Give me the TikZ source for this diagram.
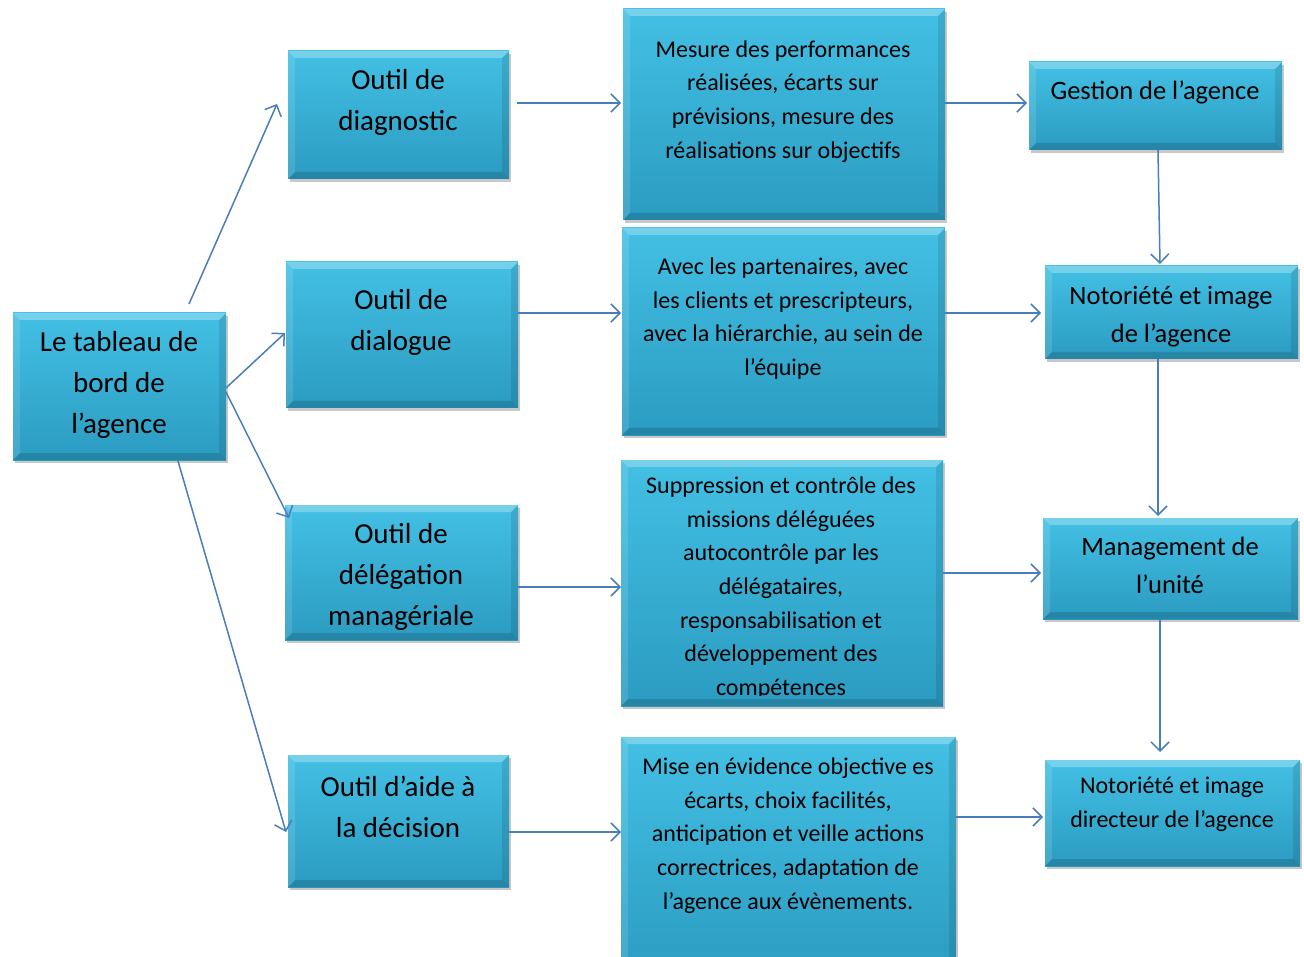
\documentclass[tikz,border=0pt]{standalone}
\usepackage{fontspec}
\setmainfont{Carlito}
\usetikzlibrary{arrows.meta,shadows}
\definecolor{boxtop}{HTML}{43C0E4}
\definecolor{boxbot}{HTML}{2B9BC1}
\definecolor{arrowblue}{HTML}{4A7EBB}
\tikzset{
  box/.style={rectangle, inner sep=0pt, outer sep=0pt,
    top color=boxtop, bottom color=boxbot,
    drop shadow={shadow xshift=2pt, shadow yshift=-3pt, opacity=0.3, fill=black!70},
    path picture={
      \coordinate (nw) at (path picture bounding box.north west);
      \coordinate (ne) at (path picture bounding box.north east);
      \coordinate (sw) at (path picture bounding box.south west);
      \coordinate (se) at (path picture bounding box.south east);
      \fill[white,opacity=0.28] (nw) -- (ne) -- ([shift={(-7pt,-7pt)}]ne) -- ([shift={(7pt,-7pt)}]nw) -- cycle;
      \fill[white,opacity=0.12] (nw) -- (sw) -- ([shift={(7pt,7pt)}]sw) -- ([shift={(7pt,-7pt)}]nw) -- cycle;
      \fill[black,opacity=0.14] (sw) -- (se) -- ([shift={(-7pt,7pt)}]se) -- ([shift={(7pt,7pt)}]sw) -- cycle;
      \fill[black,opacity=0.10] (ne) -- (se) -- ([shift={(-7pt,7pt)}]se) -- ([shift={(-7pt,-7pt)}]ne) -- cycle;
    }},
  bigtxt/.style={align=center, inner sep=0pt, font=\fontsize{29}{41}\selectfont},
  dtxt/.style={align=center, inner sep=0pt, font=\fontsize{26.5}{38.5}\selectfont},
  midtxt/.style={align=center, inner sep=0pt, font=\fontsize{24}{33.7}\selectfont},
  arr/.style={draw=arrowblue, line width=1.5pt, -{Straight Barb[length=9pt,width=18pt,line width=1.5pt]}},
}
\begin{document}
\begin{tikzpicture}[x=1pt,y=-1pt]
\clip (0,0) rectangle (1304,957);
\fill[white] (0,0) rectangle (1304,957);

% boxes
\node[box, minimum width=213pt, minimum height=147pt] (A) at (119.5,386.5) {};
\node[box, minimum width=221pt, minimum height=128pt] (B1) at (398.5,115) {};
\node[box, minimum width=232pt, minimum height=146pt] (B2) at (402,335) {};
\node[box, minimum width=233pt, minimum height=135pt] (B3) at (401.5,572.5) {};
\node[box, minimum width=221pt, minimum height=132pt] (B4) at (398.5,821) {};
\node[box, minimum width=322pt, minimum height=211pt] (C1) at (784,114.5) {};
\node[box, minimum width=323pt, minimum height=207pt] (C2) at (783.5,331.5) {};
\node[box, minimum width=322pt, minimum height=246pt] (C3) at (782,583) {};
\node[box, minimum width=335pt, minimum height=243pt] (C4) at (788.5,858.5) {};
\node[box, minimum width=253pt, minimum height=88pt] (D1) at (1155.5,106) {};
\node[box, minimum width=253pt, minimum height=93pt] (D2) at (1171.5,312.5) {};
\node[box, minimum width=255pt, minimum height=101pt] (D3) at (1170.5,568.5) {};
\node[box, minimum width=255pt, minimum height=106pt] (D4) at (1172.5,813) {};

% texts
\node[bigtxt] (At) at (119,384.5) {Le tableau de\\bord de\\l’agence};
\node[bigtxt] (B1t) at (398,102.5) {Outil de\\diagnostic};
\node[bigtxt] (B2t) at (401,322) {Outil de\\dialogue};
\node[bigtxt] (B3t) at (401,576.5) {Outil de\\délégation\\managériale};
\node[bigtxt] (B4t) at (398,807) {Outil d’aide à\\la décision};
\node[midtxt] (C1t) at (783,101.5) {Mesure des performances\\réalisées, écarts sur\\prévisions, mesure des\\réalisations sur objectifs};
\node[midtxt] (C2t) at (783,318.5) {Avec les partenaires, avec\\les clients et prescripteurs,\\avec la hiérarchie, au sein de\\l’équipe};
\begin{scope}
\clip (621,460) rectangle (943,695);
\node[midtxt] (C3t) at (781,588) {Suppression et contrôle des\\missions déléguées\\autocontrôle par les\\délégataires,\\responsabilisation et\\développement des\\compétences};
\end{scope}
\node[midtxt] (C4t) at (788,835.5) {Mise en évidence objective es\\écarts, choix facilités,\\anticipation et veille actions\\correctrices, adaptation de\\l’agence aux évènements.};
\node[dtxt] (D1t) at (1155,92.5) {Gestion de l’agence};
\node[dtxt] (D2t) at (1171,316.5) {Notoriété et image\\de l’agence};
\node[dtxt] (D3t) at (1170,565.5) {Management de\\l’unité};
\node[midtxt] (D4t) at (1172,804) {Notoriété et image\\directeur de l’agence};

% connectors
\draw[arr] ([shift={(69.5,-9)}]A.north) -- ([shift={(-11,-11)}]B1.west);
\draw[arr] ([shift={(0,1.5)}]A.east) -- ([shift={(-1,-2)}]B2.west);
\draw[arr] ([shift={(0,5.5)}]A.east) -- ([shift={(4,13)}]B3.north west);
\draw[arr] ([shift={(58.5,1)}]A.south) -- ([shift={(-2,11)}]B4.west);

\draw[arr] ([shift={(8,-12)}]B1.east) -- ([shift={(-2,-11.5)}]C1.west);
\draw[arr] ([shift={(0,-22)}]B2.east) -- ([shift={(-1,-18.5)}]C2.west);
\draw[arr] ([shift={(0,14.5)}]B3.east) -- ([shift={(0,4)}]C3.west);
\draw[arr] ([shift={(0,11)}]B4.east) -- ([shift={(0,-26.5)}]C4.west);

\draw[arr] ([shift={(0,-11.5)}]C1.east) -- ([shift={(-2,-3)}]D1.west);
\draw[arr] ([shift={(0,-18.5)}]C2.east) -- ([shift={(-4,0.5)}]D2.west);
\draw[arr] ([shift={(0,-10)}]C3.east) -- ([shift={(-2,4.5)}]D3.west);
\draw[arr] ([shift={(0,-41.5)}]C4.east) -- ([shift={(-2,4)}]D4.west);

\draw[arr] ([shift={(2.5,0)}]D1.south) -- ([shift={(-11.5,-2)}]D2.north);
\draw[arr] ([shift={(-13.5,0)}]D2.south) -- ([shift={(-12.5,-2)}]D3.north);
\draw[arr] ([shift={(-10.5,0)}]D3.south) -- ([shift={(-12.5,-8)}]D4.north);
\end{tikzpicture}
\end{document}
